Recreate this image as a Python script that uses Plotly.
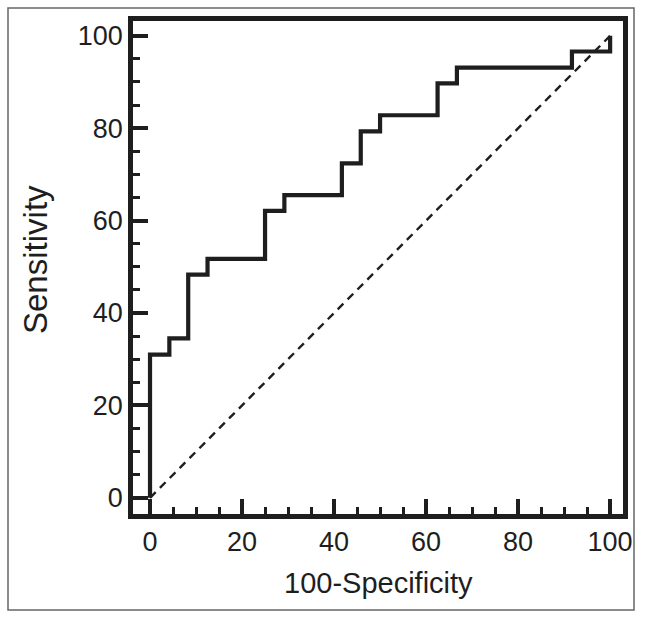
import plotly.graph_objects as go

# ROC curve points (100-Specificity, Sensitivity), step curve
fpr = [0, 4.2, 8.3, 12.5, 25.0, 29.2, 41.7, 45.8, 50.0, 62.5, 66.7, 91.7, 100]
tpr = [31.0, 34.5, 48.3, 51.7, 62.1, 65.5, 72.4, 79.3, 82.8, 89.7, 93.1, 96.6, 100]
diag_x = [0, 100]
diag_y = [0, 100]
x_ticks = [0, 20, 40, 60, 80, 100]
y_ticks = [0, 20, 40, 60, 80, 100]

# step path: start at origin then horizontal/vertical steps
step_x = [0] + fpr
step_y = [0] + tpr

W, H = 646, 619
L, R, T, B = 133, 23, 21, 105
pw, ph = W - L - R, H - T - B

def px2paper_x(px):
    return (px - L) / pw

def py2paper_y(py):
    return (H - B - py) / ph

FONT = "Liberation Sans, Arial, sans-serif"
INK = "#1e1e1e"

fig = go.Figure()
fig.add_trace(go.Scatter(x=diag_x, y=diag_y, mode="lines",
                         line=dict(color=INK, width=2.4, dash="8px,6px"),
                         hoverinfo="skip", showlegend=False))
fig.add_trace(go.Scatter(x=step_x, y=step_y, mode="lines",
                         line=dict(color=INK, width=4.2, shape="hv"),
                         showlegend=False))

axis_common = dict(
    showline=True, linewidth=4.5, linecolor=INK, mirror=True,
    ticks="inside", ticklen=15, tickwidth=4, tickcolor=INK,
    showgrid=False, zeroline=False,
    tickfont=dict(family=FONT, size=27, color=INK),
    minor=dict(dtick=5, ticks="inside", ticklen=7, tickwidth=3, tickcolor=INK, showgrid=False),
)

fig.update_xaxes(range=[-3.7, 102.8], tickvals=x_ticks, **axis_common)
fig.update_yaxes(range=[-3.5, 103.2], tickvals=y_ticks, **axis_common)

fig.update_layout(
    width=W, height=H,
    margin=dict(l=L, r=R, t=T, b=B),
    paper_bgcolor="white", plot_bgcolor="white",
    font=dict(family=FONT, color=INK),
    shapes=[dict(type="rect", xref="paper", yref="paper",
                 x0=px2paper_x(8), x1=px2paper_x(634),
                 y0=py2paper_y(610), y1=py2paper_y(8),
                 line=dict(color="#666666", width=1.5), layer="below")],
    annotations=[
        dict(text="100-Specificity", xref="paper", yref="paper",
             x=px2paper_x(378), y=py2paper_y(583), showarrow=False,
             xanchor="center", yanchor="middle",
             font=dict(family=FONT, size=29, color=INK)),
        dict(text="Sensitivity", xref="paper", yref="paper",
             x=px2paper_x(35), y=py2paper_y(260), showarrow=False,
             textangle=-90, xanchor="center", yanchor="middle",
             font=dict(family=FONT, size=33, color=INK)),
    ],
)

fig.write_html("out.html",
               config={"displayModeBar": False},
               post_script="document.body.style.margin='0';document.body.style.overflow='hidden';")
